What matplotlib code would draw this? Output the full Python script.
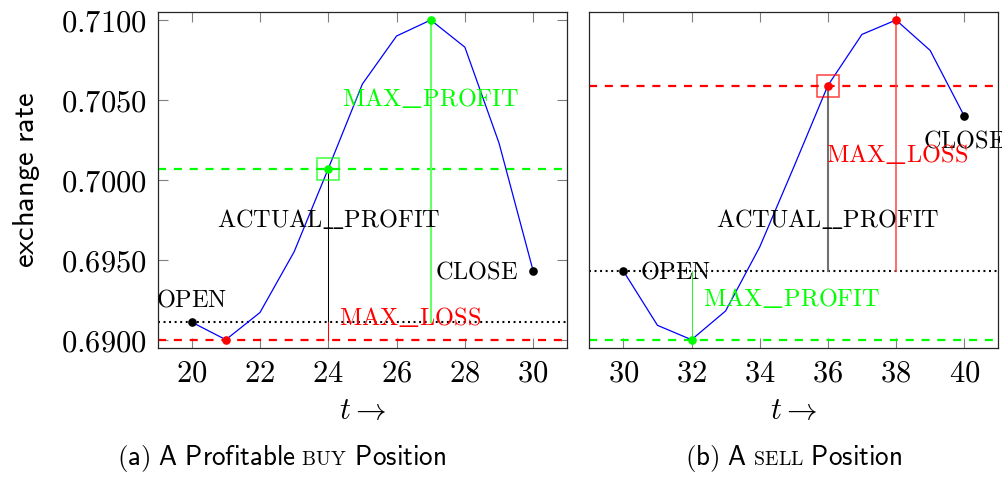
import matplotlib
matplotlib.use("Agg")
import matplotlib.pyplot as plt
from matplotlib.ticker import FixedLocator, FuncFormatter
from matplotlib.offsetbox import TextArea, HPacker, AnnotationBbox

plt.rcParams["mathtext.fontset"] = "cm"
plt.rcParams["lines.scale_dashes"] = False

# ---- data -------------------------------------------------------------
buy_t = [20, 21, 22, 23, 24, 25, 26, 27, 28, 29, 30]
buy_rate = [0.6911, 0.6900, 0.6917, 0.6955, 0.7007, 0.7060,
            0.7090, 0.7100, 0.7083, 0.7023, 0.6943]
buy_open_t, buy_min_t, buy_exit_t, buy_max_t, buy_close_t = 20, 21, 24, 27, 30

sell_t = [30, 31, 32, 33, 34, 35, 36, 37, 38, 39, 40]
sell_rate = [0.6943, 0.6909, 0.6900, 0.6918, 0.6958, 0.7008,
             0.7059, 0.7091, 0.7100, 0.7081, 0.7040]
sell_open_t, sell_min_t, sell_exit_t, sell_max_t, sell_close_t = 30, 32, 36, 38, 40

y_ticks = [0.6900, 0.6950, 0.7000, 0.7050, 0.7100]
buy_xticks = [20, 22, 24, 26, 28, 30]
sell_xticks = [30, 32, 34, 36, 38, 40]

captions = {
    "buy": [("(a)\\ A\\ Profitable", "sans"), ("\\ BUY", "caps"), ("\\ Position", "sans")],
    "sell": [("(b)\\ A", "sans"), ("\\ SELL", "caps"), ("\\ Position", "sans")],
}

# ---- styling ----------------------------------------------------------
GREEN = "#00ff00"
RED = "#ff0000"
BLUE = "#0000ff"
DASH = (0, (5.8, 5.6))
DOT = (0, (1.4, 2.6))
LABEL_SIZE = 17.5
TICK_SIZE = 22


def rate_at(ts, rates, t):
    return rates[ts.index(t)]


def tex(s):
    # TeX-style underscores: short rules that run into one another
    return r"$\mathrm{" + s.replace("__", r"\_\!\_") + "}$"


def style_axes(ax, xticks, show_y):
    ax.set_ylim(0.6895, 0.7105)
    ax.set_xlim(xticks[0] - 1, xticks[-1] + 1)
    ax.xaxis.set_major_locator(FixedLocator(xticks))
    ax.xaxis.set_major_formatter(FuncFormatter(lambda v, p: f"${v:.0f}$"))
    if show_y:
        ax.yaxis.set_major_locator(FixedLocator(y_ticks))
        ax.yaxis.set_major_formatter(FuncFormatter(lambda v, p: f"${v:.4f}$"))
    else:
        ax.set_yticks([])
    ax.tick_params(direction="in", length=7.5, width=0.8, color="0.5",
                   top=True, right=True, labelsize=TICK_SIZE, pad=8)
    for sp in ax.spines.values():
        sp.set_color("0.15")
        sp.set_linewidth(0.9)


def dot(ax, t, r, color):
    ax.plot([t], [r], "o", ms=5.2, color=color, zorder=6)


def box(ax, t, r, color):
    ax.plot([t], [r], "s", ms=15.5, mfc="none", mec=color, mew=1.1,
            alpha=0.75, zorder=6)


def text(ax, x, y, s, color, ha="center", **kw):
    ax.text(x, y, tex(s), color=color, ha=ha, va="baseline",
            fontsize=LABEL_SIZE, zorder=7, clip_on=True, **kw)


def annotate(ax, t, r, s, dx, dy, ha):
    ax.annotate(tex(s), (t, r), xytext=(dx, dy), textcoords="offset points",
                ha=ha, va="baseline", fontsize=LABEL_SIZE, color="black",
                zorder=7, annotation_clip=False).set_clip_on(True)


fig = plt.figure(figsize=(10.02, 4.79), dpi=100)
ax1 = fig.add_axes([0.1572, 0.2741, 0.4090, 0.7008])
ax2 = fig.add_axes([0.5881, 0.2741, 0.4082, 0.7008])

# ---- (a) profitable buy ----------------------------------------------
ax = ax1
style_axes(ax, buy_xticks, True)
o = rate_at(buy_t, buy_rate, buy_open_t)
lo = rate_at(buy_t, buy_rate, buy_min_t)
ex = rate_at(buy_t, buy_rate, buy_exit_t)
hi = rate_at(buy_t, buy_rate, buy_max_t)
cl = rate_at(buy_t, buy_rate, buy_close_t)

ax.axhline(o, color="black", lw=1.5, ls=DOT, zorder=2)
ax.axhline(lo, color=RED, lw=1.6, ls=DASH, zorder=2)
ax.axhline(ex, color=GREEN, lw=1.6, ls=DASH, zorder=2)
ax.plot([buy_max_t, buy_max_t], [o, hi], color="#66ff66", lw=1.5, zorder=3)
ax.plot([buy_exit_t, buy_exit_t], [o, ex], color="black", lw=0.75, zorder=3)
ax.plot([buy_exit_t, buy_exit_t], [lo, o], color=RED, lw=0.75, zorder=3)
ax.plot(buy_t, buy_rate, color=BLUE, lw=0.9, zorder=4)
dot(ax, buy_open_t, o, "black")
dot(ax, buy_min_t, lo, RED)
dot(ax, buy_exit_t, ex, GREEN)
dot(ax, buy_max_t, hi, GREEN)
dot(ax, buy_close_t, cl, "black")
box(ax, buy_exit_t, ex, GREEN)

annotate(ax, buy_open_t, o, "OPEN", 0, 11.5, "center")
annotate(ax, buy_close_t, cl, "CLOSE", -10.8, -5.5, "right")
text(ax, buy_exit_t, 0.69708, "ACTUAL__PROFIT", "black")
text(ax, buy_max_t, 0.70463, "MAX__PROFIT", GREEN)
text(ax, buy_exit_t + 0.32, 0.69094, "MAX__LOSS", RED, ha="left")

# ---- (b) sell ---------------------------------------------------------
ax = ax2
style_axes(ax, sell_xticks, False)
o = rate_at(sell_t, sell_rate, sell_open_t)
lo = rate_at(sell_t, sell_rate, sell_min_t)
ex = rate_at(sell_t, sell_rate, sell_exit_t)
hi = rate_at(sell_t, sell_rate, sell_max_t)
cl = rate_at(sell_t, sell_rate, sell_close_t)

ax.axhline(o, color="black", lw=1.5, ls=DOT, zorder=2)
ax.axhline(ex, color=RED, lw=1.6, ls=DASH, zorder=2)
ax.axhline(lo, color=GREEN, lw=1.6, ls=DASH, zorder=2)
ax.plot([sell_min_t, sell_min_t], [lo, o], color="#33ee33", lw=0.75, zorder=3)
ax.plot([sell_exit_t, sell_exit_t], [o, ex], color="#707070", lw=1.5, zorder=3)
ax.plot([sell_max_t, sell_max_t], [o, hi], color="#ff4444", lw=1.1, zorder=3)
ax.plot(sell_t, sell_rate, color=BLUE, lw=0.9, zorder=4)
dot(ax, sell_open_t, o, "black")
dot(ax, sell_min_t, lo, GREEN)
dot(ax, sell_exit_t, ex, RED)
dot(ax, sell_max_t, hi, RED)
dot(ax, sell_close_t, cl, "black")
box(ax, sell_exit_t, ex, RED)

annotate(ax, sell_open_t, o, "OPEN", 12.0, -5.5, "left")
annotate(ax, sell_close_t, cl, "CLOSE", 0, -23, "center")
text(ax, sell_exit_t, 0.69708, "ACTUAL__PROFIT", "black")
text(ax, sell_min_t + 0.34, 0.69213, "MAX__PROFIT", GREEN, ha="left")
text(ax, sell_exit_t - 0.05, 0.70111, "MAX__LOSS", RED, ha="left")

# ---- axis titles and captions ----------------------------------------
fig.text(27 / 1002, 1 - 180 / 479, r"$\mathsf{exchange\ rate}$", rotation=90,
         ha="center", va="center", fontsize=TICK_SIZE)
for a in (ax1, ax2):
    b = a.get_position()
    fig.text((b.x0 + b.x1) / 2, 1 - 411 / 479, r"$t\rightarrow$",
             ha="center", va="center", fontsize=TICK_SIZE)


def caption(xfrac, parts):
    areas = []
    for s, kind in parts:
        if kind == "sans":
            areas.append(TextArea(r"$\mathsf{" + s + "}$", textprops=dict(fontsize=19.5)))
        else:
            areas.append(TextArea(r"$\mathrm{" + s + "}$", textprops=dict(fontsize=14.2)))
    pack = HPacker(children=areas, align="baseline", pad=0, sep=0)
    ab = AnnotationBbox(pack, (xfrac, 5 / 479), xycoords="figure fraction",
                        box_alignment=(0.5, 0), frameon=False, pad=0)
    fig.add_artist(ab)


caption(282 / 1002, captions["buy"])
caption(794 / 1002, captions["sell"])

fig.savefig("out.png", dpi=100)
